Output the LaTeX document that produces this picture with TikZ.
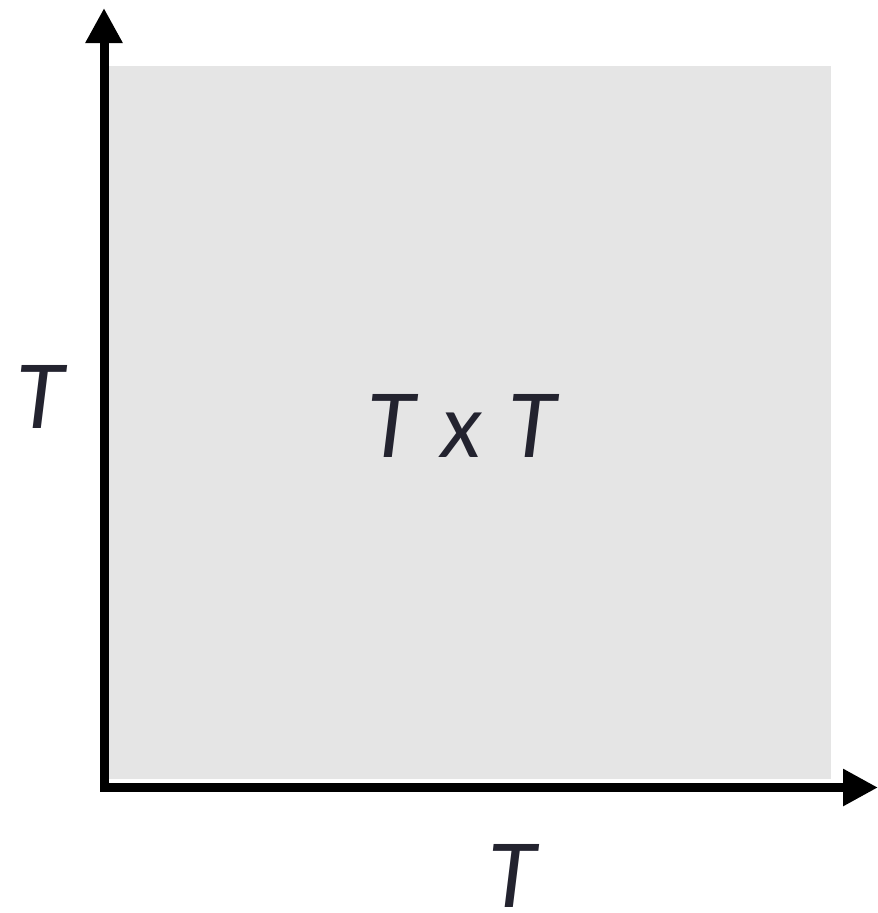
\documentclass[tikz,border=0pt]{standalone}
\usepackage{fontspec}
\setmainfont{Lato}
\usetikzlibrary{arrows.meta}
\definecolor{txtcol}{HTML}{23232F}
\definecolor{panel}{HTML}{E5E5E5}
\tikzset{
  axis/.style={line width=9pt,-{Triangle[width=35pt,length=35pt]}},
  lbl/.style={inner sep=0pt,text=txtcol,font=\fontsize{88}{88}\selectfont\itshape}
}
\begin{document}
\begin{tikzpicture}[x=1pt,y=-1pt]
\useasboundingbox (0,0) rectangle (878,913);
\fill[panel] (108,66) rectangle (831,779);
\coordinate (o1) at (104,783);
\coordinate (top) at (104,8);
\coordinate (o2) at (100,787.5);
\coordinate (right) at (878,787.5);
\draw[axis] (o1) -- (top);
\draw[axis] (o2) -- (right);
\node[lbl] (c) at (462,426) {T\hspace{0.3em}x\hspace{0.3em}T};
\node[lbl] (l) at (41,397) {T};
\node[lbl] (b) at (513,876) {T};
\end{tikzpicture}
\end{document}
